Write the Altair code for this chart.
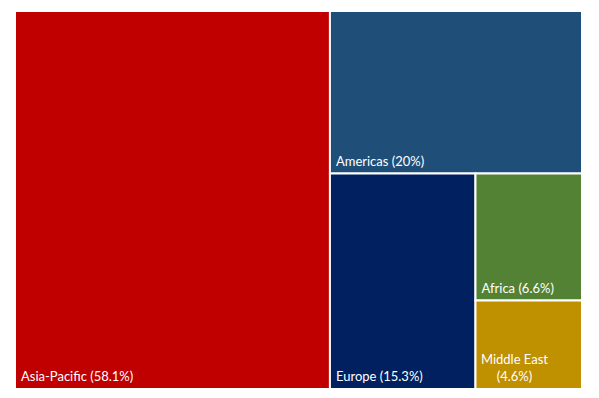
import altair as alt
import pandas as pd

regions = ["Asia-Pacific", "Americas", "Europe", "Africa", "Middle East"]
shares = [58.1, 20.0, 15.3, 6.6, 4.6]
share_labels = ["58.1%", "20%", "15.3%", "6.6%", "4.6%"]
colors = ["#C00000", "#1F4E79", "#002060", "#548235", "#BF9000"]

W, H = 567.0, 378.0


def worst(row, side):
    s = sum(row)
    return max(max(side * side * r / (s * s), (s * s) / (side * side * r)) for r in row)


def squarify(values, x, y, w, h):
    total = sum(values)
    areas = [v * w * h / total for v in values]
    rects = []
    i = 0
    while i < len(areas):
        side = min(w, h)
        row = [areas[i]]
        j = i + 1
        while j < len(areas) and worst(row + [areas[j]], side) <= worst(row, side):
            row.append(areas[j])
            j += 1
        s = sum(row)
        if w >= h:
            cw = s / h
            cy = y
            for a in row:
                rh = a / cw
                rects.append((x, cy, x + cw, cy + rh))
                cy += rh
            x += cw
            w -= cw
        else:
            rh = s / w
            cx = x
            for a in row:
                rw = a / rh
                rects.append((cx, y, cx + rw, y + rh))
                cx += rw
            y += rh
            h -= rh
        i = j
    return rects


rects = squarify(shares, 0.0, 0.0, W, H)
df = pd.DataFrame({
    "region": regions,
    "x0": [r[0] for r in rects],
    "y0": [r[1] for r in rects],
    "x1": [r[2] for r in rects],
    "y1": [r[3] for r in rects],
    "label": [f"{r} ({p})" for r, p in zip(regions, share_labels)],
})

xs = alt.Scale(domain=[0, W], nice=False, zero=False)
ys = alt.Scale(domain=[0, H], nice=False, zero=False, reverse=True)
cscale = alt.Scale(domain=regions, range=colors)

base = alt.Chart(df)
rect = base.mark_rect(stroke="white", strokeWidth=2).encode(
    x=alt.X("x0:Q", scale=xs, axis=None),
    x2="x1:Q",
    y=alt.Y("y0:Q", scale=ys, axis=None),
    y2="y1:Q",
    color=alt.Color("region:N", scale=cscale, legend=None),
)

single = base.transform_filter(alt.datum.region != "Middle East").mark_text(
    align="left", baseline="alphabetic", dx=6, dy=-8, color="white",
    font="Lato", fontSize=13,
).encode(
    x=alt.X("x0:Q", scale=xs, axis=None),
    y=alt.Y("y1:Q", scale=ys, axis=None),
    text="label:N",
)

multi = base.transform_filter(alt.datum.region == "Middle East").transform_calculate(
    lines="[datum.region, '(' + split(datum.label, '(')[1]]"
).mark_text(
    align="center", baseline="alphabetic", dx=39, dy=-25, color="white",
    font="Lato", fontSize=13, lineHeight=17,
).encode(
    x=alt.X("x0:Q", scale=xs, axis=None),
    y=alt.Y("y1:Q", scale=ys, axis=None),
    text="lines:N",
)

chart = alt.layer(rect, single, multi).properties(
    width=W, height=H,
    padding={"left": 7, "top": 3, "right": 0, "bottom": 0},
    autosize=alt.AutoSizeParams(type="none"),
    background="white",
).configure_view(stroke=None)

chart.save("out.html", embed_options={"renderer": "svg", "actions": False})
